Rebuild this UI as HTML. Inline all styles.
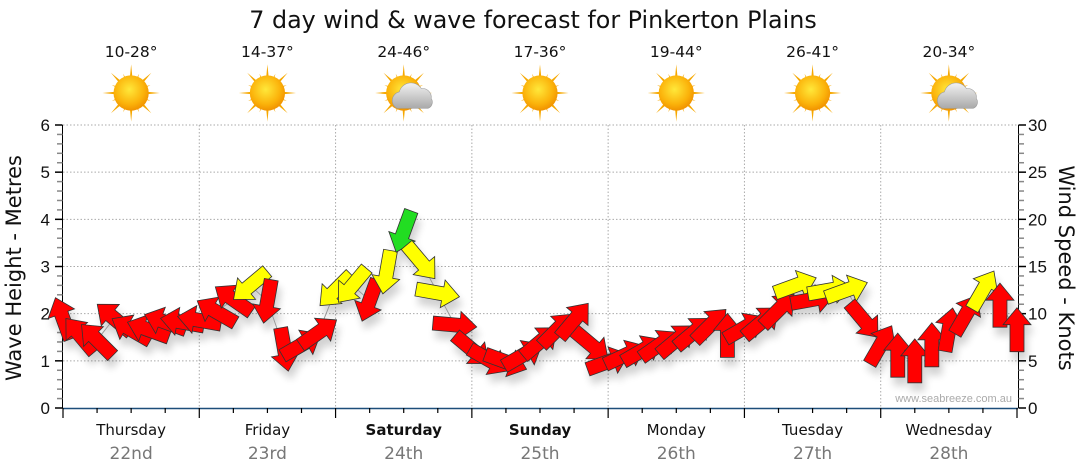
<!DOCTYPE html>
<html><head><meta charset="utf-8"><style>
html,body{margin:0;padding:0;background:#fff;}
svg{display:block;font-family:"Liberation Sans",sans-serif;}
</style></head><body>
<svg id="chart" width="1080" height="475" viewBox="0 0 1080 475" xmlns="http://www.w3.org/2000/svg">
<defs>
<filter id="shadow" x="-50%" y="-50%" width="200%" height="200%">
<feGaussianBlur in="SourceAlpha" stdDeviation="4"/>
<feOffset dx="3" dy="8" result="b"/>
<feComponentTransfer><feFuncA type="linear" slope="0.18"/></feComponentTransfer>
<feMerge><feMergeNode/><feMergeNode in="SourceGraphic"/></feMerge>
</filter>
<radialGradient id="sunG" cx="0.45" cy="0.4" r="0.6">
<stop offset="0" stop-color="#ffe83a"/><stop offset="0.7" stop-color="#fbb20a"/><stop offset="1" stop-color="#f19300"/>
</radialGradient>
<linearGradient id="cloudG" x1="0" y1="0" x2="0" y2="1">
<stop offset="0" stop-color="#f2f2f2"/><stop offset="1" stop-color="#a9a9a9"/>
</linearGradient>
</defs>
<text x="533" y="28" font-size="23.8" font-family="DejaVu Sans, sans-serif" text-anchor="middle" fill="#111">7 day wind &amp; wave forecast for Pinkerton Plains</text>
<g id="grid"></g>
<g id="axes"></g>
<g id="weather"></g>
<g id="arrows" filter="url(#shadow)"></g>
<text x="1012" y="402" font-size="11" text-anchor="end" fill="#aaa">www.seabreeze.com.au</text>
<text transform="translate(21,268) rotate(-90)" font-size="21" font-family="DejaVu Sans, sans-serif" text-anchor="middle" fill="#111">Wave Height - Metres</text>
<text transform="translate(1059,268) rotate(90)" font-size="21" font-family="DejaVu Sans, sans-serif" text-anchor="middle" fill="#111">Wind Speed - Knots</text>
</svg>
<script>
const dayNames=["Thursday","Friday","Saturday","Sunday","Monday","Tuesday","Wednesday"];
const dayDates=["22nd","23rd","24th","25th","26th","27th","28th"];
const boldDays=[false,false,true,true,false,false,false];
const temps=["10-28°","14-37°","24-46°","17-36°","19-44°","26-41°","20-34°"];
const cloudy=[false,false,true,false,false,false,true];
const waveTicks=[0,1,2,3,4,5,6];
const windTicks=[0,5,10,15,20,25,30];
// wind speed (knots) every 3 hours
const windSpeed=[9.5,7.7,7.2,9.5,8.3,8.3,9.1,9.1,
9.3,10.2,11.5,13,11.3,6.2,6.7,8,
12.5,13,11.4,14.4,18.7,15.5,12.2,8.8,
6.2,5.1,4.9,5.6,7,8.3,9.3,6.7,
4.9,5.6,6.1,6.7,7.2,8,8.8,7.7,
8.5,9.1,10.4,13,11.5,12.5,12.5,9.3,
6.7,5.6,5,6.7,8.3,9.9,12.5,10.9,8.3];
// direction arrow points to (deg, 0=up, clockwise)
const windDir=[-20,-40,-45,-50,-60,-70,-70,-80,
-80,-60,-55,230,190,170,60,55,
225,220,200,190,200,140,100,95,
130,120,110,60,50,45,40,130,
70,65,60,55,50,50,45,0,
60,50,45,70,80,80,70,140,
30,0,0,0,10,30,30,0,0];

const NS="http://www.w3.org/2000/svg";
const X0=63,X1=1017,Y0=408,YT=125;
const dayW=(X1-X0)/7;
const xT=h=>X0+h/24*dayW;
const yWave=v=>Y0-(v/6)*(Y0-YT);
const yWind=v=>Y0-(v/30)*(Y0-YT);
function el(tag,attrs,parent){const e=document.createElementNS(NS,tag);for(const k in attrs)e.setAttribute(k,attrs[k]);parent.appendChild(e);return e;}
const grid=document.getElementById('grid'),axes=document.getElementById('axes'),weather=document.getElementById('weather'),arrows=document.getElementById('arrows');

waveTicks.forEach(v=>{if(v===0)return;
 const g=el('line',{x1:X0,x2:1018,y1:yWave(v),y2:yWave(v),stroke:'#aaa','stroke-dasharray':'1.5,2','stroke-width':1},grid);
 
 
});
for(let d=1;d<7;d++){
 const g=el('line',{x1:xT(d*24),x2:xT(d*24),y1:YT,y2:Y0,stroke:'#aaa','stroke-dasharray':'1.5,2','stroke-width':1},grid);
 
 
}
el('line',{x1:62.5,x2:62.5,y1:YT,y2:Y0,stroke:'#000'},axes);
for(let v=0;v<=6.001;v+=0.2){const y=yWave(v);const major=Math.abs(v-Math.round(v))<0.01;
 el('line',{x1:major?55:57,x2:62.5,y1:y,y2:y,stroke:major?'#000':'#888','stroke-width':1.5},axes);}
waveTicks.forEach(v=>{const t=el('text',{x:50,y:yWave(v)+6,'font-size':17,'text-anchor':'end',fill:'#111'},axes);t.textContent=v;
 
 });
el('line',{x1:1018.5,x2:1018.5,y1:YT,y2:Y0,stroke:'#000'},axes);
for(let v=0;v<=30;v++){const y=yWind(v);const major=v%5===0;
 el('line',{x1:1018.5,x2:major?1026:1024,y1:y,y2:y,stroke:major?'#000':'#888','stroke-width':1.5},axes);}
windTicks.forEach(v=>{const t=el('text',{x:1028,y:yWind(v)+6,'font-size':17,fill:'#111'},axes);t.textContent=v;
 
 });
el('line',{x1:X0,x2:1018,y1:408.5,y2:408.5,stroke:'#1d4e7a','stroke-width':1.5},axes);
for(let h=0;h<=168;h+=6){const major=h%24===0;
 el('line',{x1:xT(h),x2:xT(h),y1:408,y2:major?418:413,stroke:'#000','stroke-width':1.2},axes);}
dayNames.forEach((n,i)=>{const cx=xT(i*24+12);
 const t=el('text',{x:cx,y:435,'font-size':15,'text-anchor':'middle',fill:'#111','font-family':'DejaVu Sans, sans-serif','font-weight':boldDays[i]?'bold':'normal'},axes);t.textContent=n;
 
 
 const d=el('text',{x:cx,y:459,'font-size':17,'text-anchor':'middle',fill:'#777','font-family':'DejaVu Sans, sans-serif'},axes);d.textContent=dayDates[i];
 
 
 const tt=el('text',{x:cx,y:57,'font-size':15.5,'text-anchor':'middle',fill:'#111','font-family':'DejaVu Sans, sans-serif'},weather);tt.textContent=temps[i];
 
 
 const g=el('g',{transform:`translate(${cx},${93}) scale(1.1)`},weather);
 
 
 for(let k=0;k<16;k++){const a=k*22.5,len=k%2?19:26;
  el('polygon',{points:`-2.5,0 2.5,0 0,${-len}`,fill:'#f6a800',transform:`rotate(${a})`},g);}
 el('circle',{r:16,fill:'url(#sunG)'},g);
 if(cloudy[i]){el('path',{d:'M-6,14 a8,8 0 0 1 2,-15 a11,11 0 0 1 20,-3 a8,8 0 0 1 9,9 a6,6 0 0 1 -3,9 z',fill:'url(#cloudG)',stroke:'#999','stroke-width':0.5},g);}
});
const pts=windSpeed.map((s,i)=>[xT(i*3),yWind(s)]);
const pl=el('polyline',{points:pts.map(p=>p.join(',')).join(' '),fill:'none',stroke:'#999','stroke-width':1},arrows);


windSpeed.forEach((s,i)=>{
 const col=s>=17?'#22dd22':(s>=12?'#ffff00':'#ff0000');
 const a=el('polygon',{points:'-7,22 7,22 7,-5 14,-5 0,-22 -14,-5 -7,-5',fill:col,stroke:'#333','stroke-width':0.8,
  transform:`translate(${pts[i][0]},${pts[i][1]}) rotate(${windDir[i]})`},arrows);
 
 
});
</script>
</body></html>
